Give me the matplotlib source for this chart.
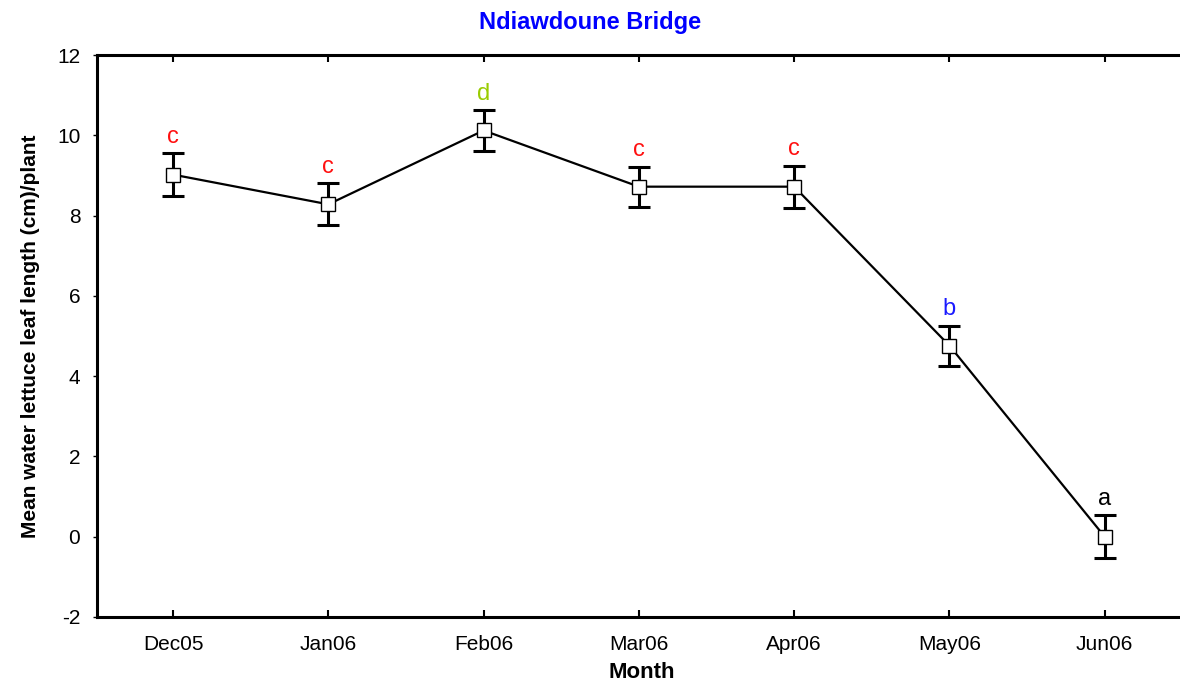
import matplotlib
matplotlib.use("Agg")
import matplotlib.pyplot as plt
import numpy as np

# data
months = ["Dec05", "Jan06", "Feb06", "Mar06", "Apr06", "May06", "Jun06"]
means = [9.02, 8.28, 10.12, 8.72, 8.72, 4.76, 0.0]
errors = [0.53, 0.52, 0.5, 0.5, 0.52, 0.5, 0.53]
letters = ["c", "c", "d", "c", "c", "b", "a"]
letter_colors = ["#ff1010", "#ff1010", "#99cc00", "#ff1010", "#ff1010", "#1a1aff", "#000000"]

plt.rcParams['font.family'] = ['Liberation Sans', 'DejaVu Sans']
plt.rcParams['axes.unicode_minus'] = False

fig = plt.figure(figsize=(11.8, 6.88), dpi=100)
ax = fig.add_axes([97 / 1180, 1 - 617 / 688, 1090 / 1180, (617 - 55) / 688])

x = np.arange(len(months))
ax.errorbar(x, means, yerr=errors, fmt='none', ecolor='black',
            elinewidth=2.2, capsize=8, capthick=2.2, zorder=2)
ax.plot(x, means, color='black', lw=1.6, marker='s', markersize=9.5,
        markerfacecolor='white', markeredgecolor='black', markeredgewidth=1.0,
        zorder=3)

for xi, m, e, lab, col in zip(x, means, errors, letters, letter_colors):
    ax.annotate(lab, (xi, m + e), xytext=(0, 4), textcoords='offset points',
                ha='center', va='bottom', fontsize=17, color=col)

ax.set_xlim(-0.49, 6.53)
ax.set_ylim(-2, 12)
ax.set_yticks(np.arange(-2, 13, 2))
ax.set_xticks(x)
ax.set_xticklabels(months)

ax.tick_params(axis='x', direction='in', top=True, length=5, width=1.5,
               labelsize=15, pad=13)
ax.tick_params(axis='y', direction='out', length=3, width=1, labelsize=15, pad=9)
for s in ax.spines.values():
    s.set_linewidth(2.2)

ax.set_xlabel("Month", fontsize=16, fontweight='bold', labelpad=6)
ax.set_ylabel("Mean water lettuce leaf length (cm)/plant", fontsize=15,
              fontweight='bold', labelpad=12)
fig.text(0.5, 1 - 22 / 688, "Ndiawdoune Bridge", ha='center', va='center',
         fontsize=17, fontweight='bold', color='#0000ff')

fig.savefig("out.png", dpi=100)
